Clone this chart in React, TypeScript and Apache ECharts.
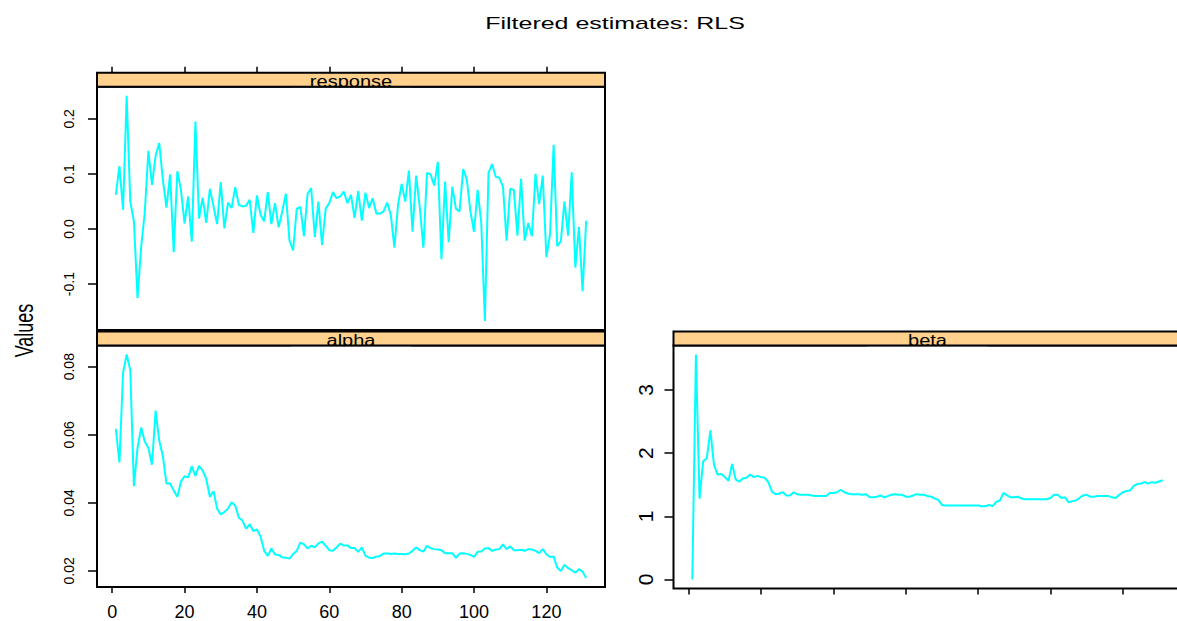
import React, { useEffect, useRef } from "react";
import * as echarts from "echarts";

const FONT = "'Liberation Sans', Arial, Helvetica, sans-serif";

const chartTitle = "Filtered estimates: RLS";
const yAxisTitle = "Values";
const panelLabels = ["response", "alpha", "beta"];

const timeIndex = Array.from({ length: 131 }, (_, i) => i + 1);

const responseValues = [
  0.062, 0.114, 0.035, 0.242, 0.050, 0.014, -0.125, -0.033, 0.030, 0.142,
  0.080, 0.133, 0.156, 0.090, 0.039, 0.099, -0.042, 0.105, 0.071, 0.010,
  0.059, -0.023, 0.195, 0.019, 0.057, 0.011, 0.073, 0.041, 0.009, 0.085,
  0.001, 0.048, 0.038, 0.076, 0.044, 0.041, 0.042, 0.053, -0.007, 0.061,
  0.026, 0.014, 0.067, 0.009, 0.047, 0.003, 0.032, 0.064, -0.021, -0.039,
  0.037, 0.040, -0.013, 0.064, 0.074, -0.015, 0.050, -0.029, 0.037, 0.047,
  0.067, 0.056, 0.059, 0.068, 0.047, 0.062, 0.020, 0.069, 0.015, 0.066,
  0.038, 0.056, 0.028, 0.028, 0.032, 0.048, 0.026, -0.034, 0.044, 0.082,
  0.050, 0.106, -0.005, 0.097, 0.040, -0.034, 0.102, 0.099, 0.079, 0.122,
  -0.055, 0.086, -0.024, 0.077, 0.037, 0.032, 0.109, 0.090, 0.032, -0.005,
  0.071, 0.011, -0.167, 0.102, 0.118, 0.095, 0.093, 0.077, -0.021, 0.073,
  0.071, -0.012, 0.091, -0.021, 0.011, -0.013, 0.100, 0.045, 0.097, -0.051,
  -0.010, 0.153, -0.031, -0.022, 0.050, -0.012, 0.103, -0.070, 0.004, -0.113,
  0.015,
];

const alphaValues = [
  0.0617, 0.0519, 0.0782, 0.0836, 0.0790, 0.0449, 0.0561, 0.0621, 0.0580, 0.0561,
  0.0512, 0.0671, 0.0583, 0.0537, 0.0457, 0.0457, 0.0436, 0.0418, 0.0463, 0.0478,
  0.0475, 0.0507, 0.0479, 0.0509, 0.0495, 0.0470, 0.0418, 0.0434, 0.0383, 0.0366,
  0.0373, 0.0383, 0.0402, 0.0392, 0.0356, 0.0348, 0.0324, 0.0337, 0.0317, 0.0322,
  0.0301, 0.0259, 0.0244, 0.0266, 0.0248, 0.0247, 0.0240, 0.0239, 0.0236, 0.0249,
  0.0259, 0.0283, 0.0278, 0.0266, 0.0274, 0.0269, 0.0281, 0.0286, 0.0274, 0.0261,
  0.0259, 0.0269, 0.0280, 0.0275, 0.0275, 0.0267, 0.0267, 0.0256, 0.0269, 0.0244,
  0.0239, 0.0238, 0.0242, 0.0244, 0.0251, 0.0251, 0.0250, 0.0251, 0.0250, 0.0250,
  0.0249, 0.0251, 0.0259, 0.0269, 0.0261, 0.0257, 0.0274, 0.0267, 0.0264, 0.0263,
  0.0261, 0.0252, 0.0252, 0.0252, 0.0238, 0.0251, 0.0252, 0.0250, 0.0247, 0.0241,
  0.0256, 0.0257, 0.0266, 0.0267, 0.0259, 0.0263, 0.0264, 0.0278, 0.0264, 0.0272,
  0.0261, 0.0261, 0.0262, 0.0259, 0.0264, 0.0263, 0.0259, 0.0252, 0.0264, 0.0249,
  0.0241, 0.0242, 0.0210, 0.0200, 0.0218, 0.0208, 0.0202, 0.0195, 0.0205, 0.0198,
  0.0179,
];

const betaValues = [
  0.00, 3.56, 1.28, 1.87, 1.92, 2.36, 1.81, 1.66, 1.67, 1.62,
  1.56, 1.83, 1.58, 1.55, 1.60, 1.61, 1.66, 1.62, 1.64, 1.62,
  1.61, 1.54, 1.39, 1.35, 1.36, 1.38, 1.33, 1.33, 1.38, 1.35,
  1.34, 1.34, 1.34, 1.33, 1.32, 1.32, 1.32, 1.32, 1.37, 1.37,
  1.38, 1.42, 1.38, 1.36, 1.35, 1.35, 1.35, 1.34, 1.35, 1.30,
  1.30, 1.31, 1.33, 1.30, 1.32, 1.34, 1.35, 1.34, 1.34, 1.31,
  1.31, 1.33, 1.35, 1.34, 1.34, 1.32, 1.31, 1.28, 1.26, 1.18,
  1.17, 1.17, 1.17, 1.17, 1.17, 1.17, 1.17, 1.17, 1.17, 1.17,
  1.16, 1.16, 1.18, 1.16, 1.23, 1.25, 1.37, 1.33, 1.30, 1.30,
  1.31, 1.28, 1.27, 1.27, 1.27, 1.27, 1.27, 1.27, 1.27, 1.29,
  1.34, 1.34, 1.29, 1.30, 1.22, 1.24, 1.25, 1.29, 1.33, 1.34,
  1.31, 1.31, 1.32, 1.32, 1.32, 1.32, 1.30, 1.29, 1.34, 1.38,
  1.40, 1.41, 1.48, 1.51, 1.52, 1.54, 1.52, 1.54, 1.53, 1.55,
  1.57,
];

const xTicks = [0, 20, 40, 60, 80, 100, 120];
const responseTicks = [-0.1, 0.0, 0.1, 0.2];
const alphaTicks = [0.02, 0.04, 0.06, 0.08];
const betaTicks = [0, 1, 2, 3];

// layout
const PAGE_W = 1177;
const PAGE_H = 621;
const CANVAS_W = 1240; // the right panel runs past the page's right edge, as in the reference
const LEFT_X = 97;
const RIGHT_X = 673.5;
const PANEL_W = 508;
const STRIP_H = 14;
const TOP_STRIP_Y = 72.7;
const TOP_PLOT_Y = TOP_STRIP_Y + STRIP_H;
const TOP_PLOT_H = 243.3;
const BOT_STRIP_Y = 331.5;
const BOT_PLOT_Y = BOT_STRIP_Y + STRIP_H;
const BOT_PLOT_H = 243;

const LINE_COLOR = "#00FFFF";
const STRIP_FILL = "#FFD18C";

function padded(vals: number[]): [number, number] {
  const lo = Math.min(...vals);
  const hi = Math.max(...vals);
  const p = (hi - lo) * 0.04;
  return [lo - p, hi + p];
}

const [xMin, xMax] = padded(timeIndex);
const [rMin, rMax] = padded(responseValues);
const [aMin, aMax] = padded(alphaValues);
const [bMin, bMax] = padded(betaValues);

const tickLine = { color: "#000", width: 1.5 };

function xAxisCfg(gridIndex: number, position: string, showLabels: boolean, offset: number) {
  return {
    type: "value",
    gridIndex,
    position,
    offset,
    min: xMin,
    max: xMax,
    axisLine: { show: false, onZero: false },
    axisTick: { show: true, length: 6, inside: false, customValues: xTicks, lineStyle: tickLine },
    axisLabel: {
      show: showLabels,
      customValues: xTicks,
      margin: 16,
      fontSize: 18,
      fontFamily: FONT,
      color: "#000",
    },
    splitLine: { show: false },
  };
}

function yAxisCfg(
  gridIndex: number,
  min: number,
  max: number,
  ticks: number[],
  fmt: (v: number) => string,
  fontSize: number,
  margin: number
) {
  return {
    type: "value",
    gridIndex,
    position: "left",
    min,
    max,
    axisLine: { show: false, onZero: false },
    axisTick: { show: true, length: 9, inside: false, customValues: ticks, lineStyle: tickLine },
    axisLabel: {
      show: true,
      customValues: ticks,
      rotate: 90,
      margin,
      fontSize,
      fontFamily: FONT,
      color: "#000",
      formatter: (v: number) => fmt(v),
    },
    splitLine: { show: false },
  };
}

function gridCfg(left: number, top: number, height: number) {
  return {
    left,
    top,
    width: PANEL_W,
    height,
    show: true,
    borderColor: "#000",
    borderWidth: 2,
    backgroundColor: "#fff",
    containLabel: false,
  };
}

function seriesCfg(idx: number, vals: number[]) {
  return {
    type: "line",
    xAxisIndex: idx,
    yAxisIndex: idx,
    data: timeIndex.map((t, i) => [t, vals[i]]),
    showSymbol: false,
    symbol: "none",
    lineStyle: { color: LINE_COLOR, width: 2 },
    itemStyle: { color: LINE_COLOR },
    clip: true,
    silent: true,
  };
}

function stripGraphics(x: number, y: number, label: string) {
  const cx = x + PANEL_W / 2;
  return [
    {
      type: "rect",
      z: 10,
      shape: { x, y, width: PANEL_W, height: STRIP_H },
      style: { fill: STRIP_FILL, stroke: null },
    },
    {
      type: "text",
      z: 11,
      x: cx,
      y: y + 8.9,
      scaleX: 1.25,
      style: {
        text: label,
        fontSize: 16,
        fontFamily: FONT,
        fill: "#000",
        align: "center",
        verticalAlign: "middle",
      },
    },
    {
      type: "rect",
      z: 12,
      shape: { x: cx - 60, y: y + STRIP_H + 1, width: 120, height: 4 },
      style: { fill: "#fff", stroke: null },
    },
    {
      type: "rect",
      z: 13,
      shape: { x, y, width: PANEL_W, height: STRIP_H },
      style: { fill: "none", stroke: "#000", lineWidth: 2 },
    },
  ];
}

const option: any = {
  animation: false,
  backgroundColor: "#fff",
  grid: [
    gridCfg(LEFT_X, TOP_PLOT_Y, TOP_PLOT_H),
    gridCfg(LEFT_X, BOT_PLOT_Y, BOT_PLOT_H),
    gridCfg(RIGHT_X, BOT_PLOT_Y, BOT_PLOT_H),
  ],
  xAxis: [
    xAxisCfg(0, "top", false, STRIP_H),
    xAxisCfg(1, "bottom", true, 0),
    xAxisCfg(2, "bottom", false, 0),
  ],
  yAxis: [
    yAxisCfg(0, rMin, rMax, responseTicks, (v) => v.toFixed(1), 14, 21.5),
    yAxisCfg(1, aMin, aMax, alphaTicks, (v) => v.toFixed(2), 14, 21.5),
    yAxisCfg(2, bMin, bMax, betaTicks, (v) => String(Math.round(v)), 21, 17.5),
  ],
  series: [
    seriesCfg(0, responseValues),
    seriesCfg(1, alphaValues),
    seriesCfg(2, betaValues),
  ],
  graphic: [
    {
      type: "text",
      x: 615,
      y: 23,
      scaleX: 1.47,
      style: {
        text: chartTitle,
        fontSize: 17,
        fontFamily: FONT,
        fill: "#000",
        align: "center",
        verticalAlign: "middle",
      },
    },
    {
      type: "text",
      x: 24,
      y: 330.5,
      rotation: Math.PI / 2,
      scaleY: 1.45,
      style: {
        text: yAxisTitle,
        fontSize: 18,
        fontFamily: FONT,
        fill: "#000",
        align: "center",
        verticalAlign: "middle",
      },
    },
    ...stripGraphics(LEFT_X, TOP_STRIP_Y, panelLabels[0]),
    ...stripGraphics(LEFT_X, BOT_STRIP_Y, panelLabels[1]),
    ...stripGraphics(RIGHT_X, BOT_STRIP_Y, panelLabels[2]),
  ],
};

export default function App() {
  const ref = useRef<HTMLDivElement>(null);
  useEffect(() => {
    if (!ref.current) return;
    const chart = echarts.init(ref.current, null, { renderer: "svg" });
    chart.setOption(option);
    return () => chart.dispose();
  }, []);
  return (
    <div
      style={{
        position: "fixed",
        left: 0,
        top: 0,
        width: PAGE_W,
        height: PAGE_H,
        overflow: "hidden",
        background: "#fff",
      }}
    >
      <div ref={ref} style={{ width: CANVAS_W, height: PAGE_H }} />
    </div>
  );
}
